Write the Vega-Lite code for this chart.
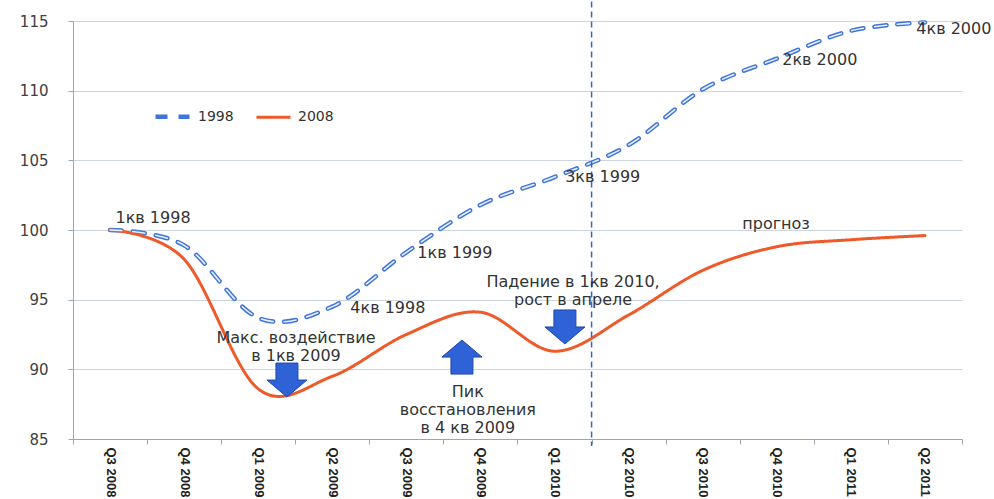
{
  "$schema": "https://vega.github.io/schema/vega-lite/v6.json",
  "width": 889,
  "height": 418,
  "autosize": "none",
  "padding": {"left": 73, "top": 21, "right": 32, "bottom": 60},
  "background": "white",
  "config": {
    "view": {"stroke": null},
    "font": "DejaVu Sans",
    "axis": {"domainColor": "#9aa6b4", "tickColor": "#9aa6b4", "gridColor": "#cdd6e0"}
  },
  "datasets": {
    "series": [
      {"q": "Q3 2008", "series": "1998", "v": 100},
      {"q": "Q4 2008", "series": "1998", "v": 98.9},
      {"q": "Q1 2009", "series": "1998", "v": 93.7},
      {"q": "Q2 2009", "series": "1998", "v": 94.5},
      {"q": "Q3 2009", "series": "1998", "v": 98.4},
      {"q": "Q4 2009", "series": "1998", "v": 101.8},
      {"q": "Q1 2010", "series": "1998", "v": 103.8},
      {"q": "Q2 2010", "series": "1998", "v": 106.1},
      {"q": "Q3 2010", "series": "1998", "v": 110.1},
      {"q": "Q4 2010", "series": "1998", "v": 112.3},
      {"q": "Q1 2011", "series": "1998", "v": 114.3},
      {"q": "Q2 2011", "series": "1998", "v": 114.9},
      {"q": "Q3 2008", "series": "2008", "v": 100},
      {"q": "Q4 2008", "series": "2008", "v": 97.9},
      {"q": "Q1 2009", "series": "2008", "v": 88.6},
      {"q": "Q2 2009", "series": "2008", "v": 89.5},
      {"q": "Q3 2009", "series": "2008", "v": 92.5},
      {"q": "Q4 2009", "series": "2008", "v": 94.1},
      {"q": "Q1 2010", "series": "2008", "v": 91.3},
      {"q": "Q2 2010", "series": "2008", "v": 93.9},
      {"q": "Q3 2010", "series": "2008", "v": 97.1},
      {"q": "Q4 2010", "series": "2008", "v": 98.8},
      {"q": "Q1 2011", "series": "2008", "v": 99.3},
      {"q": "Q2 2011", "series": "2008", "v": 99.6}
    ],
    "marker": [{"q": "Q2 2010", "top": 116.4, "bottom": 84.5}],
    "arrows": [
      {"xpos": 2.888, "v": 89.23, "dir": "down"},
      {"xpos": 5.25, "v": 90.88, "dir": "up"},
      {"xpos": 6.64, "v": 93.04, "dir": "down"}
    ],
    "notes": [
      {"xpos": 1.08, "v": 100.86, "t": "1кв 1998"},
      {"xpos": 3.01, "v": 92.25, "t": ["Макс. воздействие", "в 1кв 2009"]},
      {"xpos": 4.25, "v": 94.4, "t": "4кв 1998"},
      {"xpos": 5.155, "v": 98.35, "t": "1кв 1999"},
      {"xpos": 5.33, "v": 88.37, "t": ["Пик", "восстановления", "в 4 кв 2009"]},
      {"xpos": 6.75, "v": 96.27, "t": ["Падение в 1кв 2010,", "рост в апреле"]},
      {"xpos": 7.15, "v": 103.8, "t": "3кв 1999"},
      {"xpos": 9.49, "v": 100.43, "t": "прогноз"},
      {"xpos": 10.08, "v": 112.2, "t": "2кв 2000"},
      {"xpos": 11.89, "v": 114.43, "t": "4кв 2000"}
    ]
  },
  "resolve": {"scale": {"x": "independent"}},
  "layer": [
    {
      "layer": [
        {
          "data": {"name": "series"},
          "mark": {"type": "line", "interpolate": "cardinal", "tension": 0, "strokeCap": "round"},
          "encoding": {
            "x": {
              "field": "q", "type": "ordinal", "sort": null, "bandPosition": 0.5,
              "scale": {"type": "band", "paddingInner": 0, "paddingOuter": 0,
                "domain": ["Q3 2008", "Q4 2008", "Q1 2009", "Q2 2009", "Q3 2009", "Q4 2009", "Q1 2010", "Q2 2010", "Q3 2010", "Q4 2010", "Q1 2011", "Q2 2011"]},
              "axis": {
                "title": null, "labelAngle": 90, "tickBand": "extent", "grid": false,
                "labelFont": "Liberation Sans", "labelFontWeight": "bold", "labelFontSize": 13,
                "labelColor": "#222222", "tickSize": 5, "labelPadding": 3
              }
            },
            "y": {
              "field": "v", "type": "quantitative",
              "scale": {"domain": [85, 115], "nice": false, "zero": false},
              "axis": {
                "title": null, "values": [85, 90, 95, 100, 105, 110, 115], "grid": true,
                "labelFont": "DejaVu Sans", "labelFontSize": 15, "labelColor": "#404040",
                "tickSize": 5, "labelPadding": 20
              }
            },
            "color": {
              "field": "series", "type": "nominal",
              "scale": {"domain": ["1998", "2008"], "range": ["#3f74dc", "#ee5a2a"]},
              "legend": {
                "title": null, "orient": "none", "legendX": 80, "legendY": 76,
                "direction": "horizontal", "symbolType": "stroke", "symbolSize": 1156,
                "symbolStrokeWidth": 3, "labelFont": "DejaVu Sans", "labelFontSize": 14,
                "labelColor": "#333333", "labelOffset": 6, "columnPadding": 16, "padding": 0
              }
            },
            "strokeDash": {
              "field": "series", "type": "nominal",
              "scale": {"domain": ["1998", "2008"], "range": [[12, 11], [1, 0]]}
            },
            "strokeWidth": {
              "field": "series", "type": "ordinal",
              "scale": {"domain": ["1998", "2008"], "range": [4.5, 3]},
              "legend": null
            }
          }
        },
        {
          "data": {"name": "series"},
          "transform": [{"filter": "datum.series === '1998'"}],
          "mark": {"type": "line", "interpolate": "cardinal", "tension": 0, "strokeCap": "round", "color": "#e8f0fc", "strokeWidth": 1.6, "strokeDash": [12, 11]},
          "encoding": {
            "x": {"field": "q", "type": "ordinal", "sort": null, "bandPosition": 0.5},
            "y": {"field": "v", "type": "quantitative"}
          }
        },
        {
          "data": {"name": "marker"},
          "mark": {"type": "rule", "color": "#3366cc", "strokeWidth": 1.5, "strokeDash": [6, 4]},
          "encoding": {
            "x": {"field": "q", "type": "ordinal", "sort": null, "bandPosition": 0},
            "y": {"field": "top", "type": "quantitative"},
            "y2": {"field": "bottom"}
          }
        }
      ]
    },
    {
      "layer": [
        {
          "data": {"name": "arrows"},
          "mark": {"type": "point", "filled": true, "size": 1600, "color": "#2f62d6", "stroke": "#1f47a8", "strokeWidth": 1, "opacity": 1},
          "encoding": {
            "x": {"field": "xpos", "type": "quantitative", "scale": {"domain": [0, 12], "nice": false, "zero": false}, "axis": null},
            "y": {"field": "v", "type": "quantitative"},
            "shape": {
              "field": "dir", "type": "nominal",
              "scale": {"domain": ["down", "up"], "range": ["M-0.55,-0.85L0.55,-0.85L0.55,0L1,0L0,0.85L-1,0L-0.55,0Z", "M-0.55,0.85L0.55,0.85L0.55,0L1,0L0,-0.85L-1,0L-0.55,0Z"]},
              "legend": null
            }
          }
        },
        {
          "data": {"name": "notes"},
          "mark": {"type": "text", "font": "DejaVu Sans", "fontSize": 16, "color": "#333333", "align": "center", "baseline": "middle", "lineHeight": 18},
          "encoding": {
            "x": {"field": "xpos", "type": "quantitative"},
            "y": {"field": "v", "type": "quantitative"},
            "text": {"field": "t", "type": "nominal"}
          }
        }
      ]
    }
  ]
}
